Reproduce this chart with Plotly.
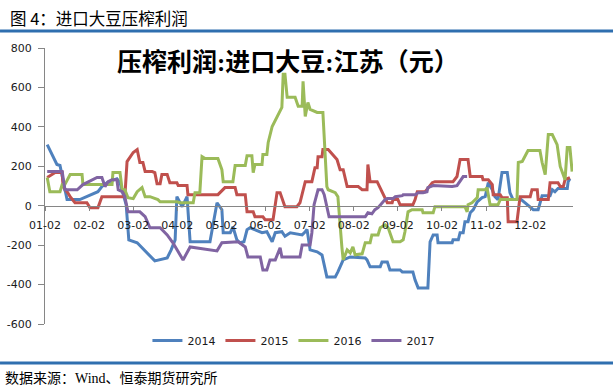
import plotly.graph_objects as go

# x positions are in months after 01-02 (0 = 01-02, 1 = 02-02, ... 11 = 12-02)
month_ticks = [0, 1, 2, 3, 4, 5, 6, 7, 8, 9, 10, 11]
month_labels = ["01-02", "02-02", "03-02", "04-02", "05-02", "06-02",
                "07-02", "08-02", "09-02", "10-02", "11-02", "12-02"]
y_ticks = [-600, -400, -200, 0, 200, 400, 600, 800]
y_labels = ["-600", "-400", "-200", "0", "200", "400", "600", "800"]

x2014 = [0.05, 0.27, 0.34, 0.50, 0.79, 1.20, 1.29, 1.41, 1.63, 1.70, 1.84, 1.88, 1.90, 2.09, 2.49, 2.77,
         2.86, 2.95, 2.99, 3.11, 3.22, 3.29, 3.74, 3.90, 4.01, 4.04, 4.20, 4.26, 4.35, 4.42, 4.51, 4.58,
         4.65, 4.92, 5.03, 5.15, 5.22, 5.37, 5.44, 5.56, 5.83, 5.90, 5.94, 6.01, 6.17, 6.28, 6.39, 6.58,
         6.64, 6.76, 6.92, 7.26, 7.30, 7.37, 7.60, 7.64, 7.76, 7.82, 8.05, 8.10, 8.34, 8.39, 8.46, 8.68,
         8.73, 8.80, 8.89, 8.91, 9.23, 9.25, 9.37, 9.41, 9.48, 9.52, 9.59, 9.64, 9.71, 9.80, 9.91, 9.98,
         10.05, 10.14, 10.20, 10.27, 10.36, 10.48, 10.50, 10.54, 10.61, 10.70, 10.77, 10.88, 11.00, 11.07,
         11.18, 11.22, 11.27, 11.45, 11.50, 11.56, 11.63, 11.84, 11.86, 11.90]
y2014 = [310, 209, 204, 31, 31, 71, 97, 117, 137, 117, 5, -122, -173, -188, -280, -265,
         -224, -173, 46, -5, 46, -183, -183, 15, -20, -137, -137, -107, -173, -188, -183, -122,
         -112, -137, -132, -183, -137, -132, -155, -137, -148, -132, -120, -224, -234, -250, -361, -361,
         -336, -275, -260, -265, -275, -310, -310, -285, -285, -326, -326, -336, -336, -377, -417, -417,
         -183, -148, -148, -188, -188, -173, -173, -137, -137, -81, -81, -36, -20, 20, 41, 46,
         117, 81, 46, 31, 168, 168, 132, 66, 31, 31, 36, 15, -5, -20,
         -20, 15, 51, 51, 81, 71, 87, 87, 122, 137]

x2015 = [0.05, 0.16, 0.23, 0.39, 0.41, 0.50, 0.57, 0.68, 0.95, 1.02, 1.20, 1.29, 1.81, 1.86, 2.00, 2.09,
         2.15, 2.22, 2.27, 2.43, 2.49, 2.54, 2.61, 2.65, 2.77, 2.83, 2.99, 3.02, 3.22, 3.24, 3.92, 4.08,
         4.31, 4.35, 4.54, 4.58, 4.72, 4.76, 4.94, 4.99, 5.17, 5.26, 5.33, 5.44, 5.71, 5.78, 5.90, 6.05,
         6.12, 6.17, 6.19, 6.28, 6.30, 6.42, 6.51, 6.62, 6.69, 6.76, 6.85, 7.10, 7.19, 7.30, 7.32, 7.37,
         7.53, 7.64, 7.71, 7.76, 7.87, 7.89, 8.00, 8.05, 8.34, 8.39, 8.44, 8.62, 8.78, 8.84, 9.25, 9.34,
         9.41, 9.59, 9.64, 9.91, 9.93, 10.05, 10.14, 10.16, 10.32, 10.36, 10.48, 10.50, 10.70, 10.77,
         11.00, 11.04, 11.16, 11.18, 11.41, 11.45, 11.63, 11.68, 11.75, 11.79, 11.90]
y2015 = [143, 158, 168, 168, 97, 71, 46, 15, 15, -10, -10, 46, 46, 224, 270, 285,
         219, 219, 173, 173, 168, 112, 112, 158, 158, 117, 117, 102, 102, 56, 56, 92,
         92, 56, 56, -31, -31, -56, -56, -71, -71, 66, 66, -5, -5, 15, 122, 122,
         193, 193, 249, 249, 285, 285, 260, 234, 183, 183, 97, 97, 81, 81, 209, 122,
         122, 71, 46, 15, 15, 31, 31, 5, 5, 31, 71, 71, 117, 122, 122, 148,
         234, 234, 148, 148, 132, 132, 107, 56, 56, 41, 41, -81, -81, 46,
         46, 81, 81, 31, 31, 117, 117, 97, 97, 132, 143]

x2016 = [0.05, 0.11, 0.34, 0.39, 0.45, 0.57, 0.84, 0.86, 1.52, 1.54, 1.70, 1.75, 1.81, 1.88, 2.00, 2.09,
         2.20, 2.27, 2.38, 2.56, 2.61, 2.99, 3.06, 3.36, 3.40, 3.51, 3.56, 3.63, 3.92, 4.01, 4.04, 4.26,
         4.31, 4.54, 4.58, 4.69, 4.72, 4.76, 4.92, 4.94, 5.03, 5.06, 5.15, 5.26, 5.37, 5.40, 5.44, 5.49,
         5.67, 5.74, 5.83, 5.85, 5.90, 5.96, 6.01, 6.17, 6.30, 6.39, 6.42, 6.58, 6.64, 6.73, 6.76, 6.85,
         6.92, 6.98, 7.03, 7.19, 7.26, 7.37, 7.41, 7.55, 7.60, 7.71, 7.78, 7.89, 8.05, 8.12, 8.16, 8.23,
         8.32, 8.55, 8.57, 8.80, 8.84, 9.52, 9.57, 9.59, 9.68, 9.80, 9.82, 9.98, 10.02, 10.05, 10.09,
         10.27, 10.32, 10.70, 10.73, 10.82, 10.95, 11.22, 11.27, 11.34, 11.38, 11.41, 11.50, 11.56,
         11.61, 11.68, 11.79, 11.84, 11.90, 11.95]
y2016 = [143, 71, 71, 107, 107, 158, 158, 107, 107, 168, 168, 81, 81, 41, 36, 71,
         92, 46, 46, 31, 20, 20, 15, 15, 66, 66, 249, 239, 239, 183, 122, 122,
         204, 204, 254, 254, 168, 209, 209, 260, 260, 321, 402, 448, 499, 667, 667, 550,
         550, 504, 504, 631, 453, 524, 489, 473, 473, 97, 81, 66, 46, -209, -275, -224,
         -239, -209, -249, -244, -188, -188, -148, -148, -112, -97, -112, -183, -183, -173, -132, -31,
         -20, -20, -36, -36, -5, -5, -31, 5, 15, 41, 81, 81, 92, 56, 5,
         5, 31, 31, 219, 224, 280, 280, 219, 158, 270, 361, 361, 336,
         310, 199, 132, 295, 295, 173]

x2017 = [0.05, 0.39, 0.45, 0.73, 0.86, 1.18, 1.29, 1.36, 1.43, 1.52, 1.63, 1.66, 1.75, 1.81, 1.88, 2.15,
         2.27, 2.38, 2.61, 2.77, 2.90, 3.13, 3.29, 3.45, 3.74, 3.90, 4.01, 4.38, 4.54, 4.60, 4.88, 4.94,
         5.03, 5.10, 5.22, 5.33, 5.37, 5.78, 5.83, 6.01, 6.05, 6.10, 6.19, 6.28, 6.33, 6.39, 6.44, 7.26,
         7.32, 7.41, 7.48, 7.55, 7.71, 7.76, 7.89, 7.94, 8.10, 8.12, 8.39, 8.46, 8.57, 8.66, 8.68, 8.80,
         9.23, 9.34, 9.41, 9.48, 9.57]
y2017 = [173, 173, 81, 81, 107, 143, 143, 97, 122, 132, 132, 81, 71, 46, -31, -31,
         -56, -112, -112, -148, -188, -275, -209, -214, -224, -229, -188, -183, -209, -260, -260, -326,
         -326, -275, -275, -214, -260, -260, -199, -199, -137, 5, 81, 81, 56, -10, -56, -56,
         -36, -41, -20, -10, 31, 36, 36, 46, 51, 56, 56, 66, 66, 71, 92, 102,
         97, 102, 122, 148, 148]

series = [("2014", x2014, y2014, "#4F81BD"),
          ("2015", x2015, y2015, "#C0504D"),
          ("2016", x2016, y2016, "#9BBB59"),
          ("2017", x2017, y2017, "#8064A2")]

fig = go.Figure()
for name, xs, ys, col in series:
    fig.add_trace(go.Scatter(x=xs, y=ys, name=name, mode="lines",
                             line=dict(color=col, width=3)))

tick_font = dict(family="DejaVu Sans", size=11, color="#1a1a1a")
fig.update_layout(
    width=613, height=390,
    margin=dict(l=45, r=40, t=48, b=66, autoexpand=False),
    paper_bgcolor="white", plot_bgcolor="white",
    showlegend=True,
    legend=dict(orientation="h", x=0.194, xanchor="left", y=-0.06, yanchor="middle",
                font=tick_font, bgcolor="rgba(0,0,0,0)"),
    xaxis=dict(range=[0, 11.97], tickmode="array", tickvals=month_ticks, ticktext=month_labels,
               anchor="free", position=0.4286, showline=True, linecolor="#868686", linewidth=1,
               ticks="outside", ticklen=4, tickcolor="#868686", showgrid=False, zeroline=False,
               tickfont=tick_font, ticklabelstandoff=5, automargin=False),
    yaxis=dict(range=[-600, 800], tickmode="array", tickvals=y_ticks, ticktext=y_labels,
               showline=True, linecolor="#868686", linewidth=1, ticks="outside", ticklen=6,
               tickcolor="#868686", showgrid=False, zeroline=False, tickfont=tick_font,
               ticklabelstandoff=4, automargin=False),
    shapes=[
        dict(type="line", xref="paper", yref="paper", x0=-0.0852, x1=1.0758, y0=1.0616, y1=1.0616,
             line=dict(color="#2F6FAF", width=3)),
        dict(type="line", xref="paper", yref="paper", x0=-0.0852, x1=1.0758, y0=-0.1413, y1=-0.1413,
             line=dict(color="#2F6FAF", width=3)),
    ],
    annotations=[
        dict(text="图 4：进口大豆压榨利润", xref="paper", yref="paper", x=-0.070, y=1.1087,
             xanchor="left", yanchor="middle", showarrow=False,
             font=dict(family="Noto Sans CJK SC", size=16.5, color="#000000")),
        dict(text="数据来源：Wind、恒泰期货研究所", xref="paper", yref="paper", x=-0.0795, y=-0.1957,
             xanchor="left", yanchor="middle", showarrow=False,
             font=dict(family="Liberation Serif, Noto Sans CJK SC", size=14, color="#000000")),
        dict(text="<b>压榨利润:进口大豆:江苏（元）</b>", xref="paper", yref="paper", x=0.460, y=0.9457,
             xanchor="center", yanchor="middle", showarrow=False,
             font=dict(family="Liberation Serif, Noto Sans CJK SC", size=25, color="#000000")),
    ],
)

fig.write_html("out.html", config={"displayModeBar": False},
               post_script="document.body.style.margin='0';")
